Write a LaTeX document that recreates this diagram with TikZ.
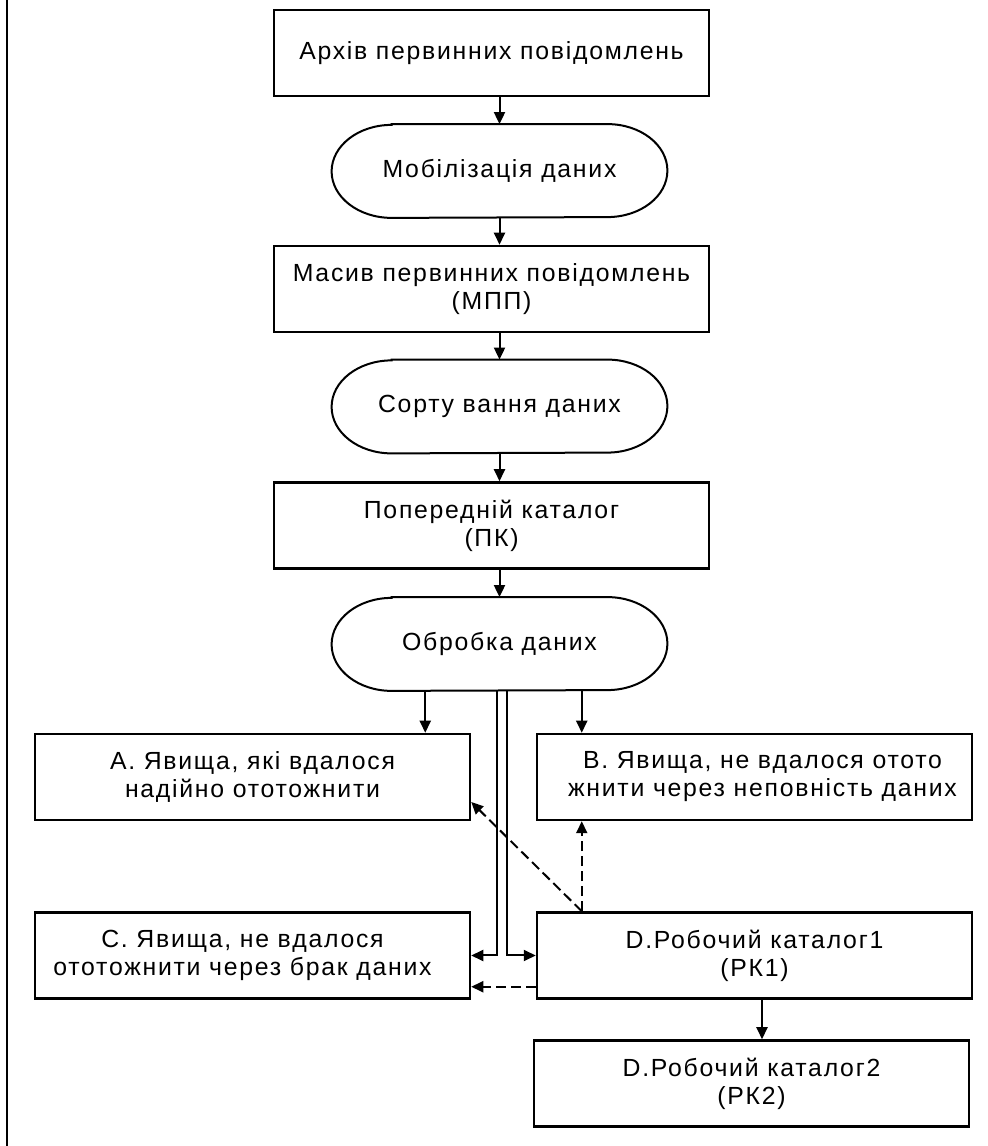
\documentclass[tikz,border=0pt]{standalone}
\usepackage{fontspec}
\setmainfont{Liberation Sans}[LetterSpace=7]
\usepackage{tikz}
\usetikzlibrary{arrows.meta, calc}

\begin{document}
\begin{tikzpicture}[x=0.5pt, y=0.5pt,
    font=\fontsize{12.4pt}{14pt}\selectfont,
    box/.style={draw, line width=1.25pt, minimum width=217.5pt, minimum height=43pt, inner sep=0pt, align=center},
    proc/.style={minimum width=167.5pt, minimum height=46.5pt, inner sep=0pt, align=center},
    arr/.style={line width=1pt, -{Triangle[length=6pt, width=5.5pt]}},
    dasharr/.style={arr, dash pattern=on 5pt off 2.5pt}]
      \useasboundingbox (0,0) rectangle (988,1146);
      \draw[line width=1.2pt] (7,0) -- (7,1146);

      \node [box] (arch) at (491.5,1093) {Архів первинних повідомлень};
      \node [proc] (mob) at (499.5,975) {Мобілізація даних};
      \node [box] (mpp) at (491.5,857) {Масив первинних повідомлень\\(МПП)};
      \node [proc] (sort) at (499.5,739.5) {Сорту вання даних};
      \node [box] (pk) at (491.5,620.5) {Попередній каталог\\(ПК)};
      \node [proc] (obr) at (499.5,502) {Обробка даних};
      \node [box] (a) at (252.5,369) {A. Явища, які вдалося\\надійно ототожнити};
      \node [box] (b) at (754.5,369) {\hspace*{8pt}B. Явища, не вдалося отото\\\hspace*{8pt}жнити через неповність даних};
      \node [box] (c) at (252.5,190.5) {C. Явища, не вдалося\hspace*{10pt}\\ототожнити через брак даних\hspace*{10pt}};
      \node [box] (d) at (754.5,190.5) {D.Робочий каталог1\\(РК1)};
      \node [box] (rk2) at (751.5,62.5) {D.Робочий каталог2\\(РК2)};

      \foreach \n in {mob, sort, obr}
        \draw[line width=1pt] ([xshift=30pt]\n.north west) -- ([xshift=-30pt]\n.north east)
          arc[start angle=90, end angle=-90, x radius=30pt, y radius=23.25pt]
          -- ([xshift=30pt]\n.south west)
          arc[start angle=270, end angle=90, x radius=30pt, y radius=23.25pt] -- cycle;

      \draw[arr] (arch.south -| mob.north) -- (mob.north);
      \draw[arr] (mob.south) -- (mob.south |- mpp.north);
      \draw[arr] (mpp.south -| sort.north) -- (sort.north);
      \draw[arr] (sort.south) -- (sort.south |- pk.north);
      \draw[arr] (pk.south -| obr.north) -- (obr.north);

      \coordinate (ain) at ($(a.north east)+(-46,0)$);
      \coordinate (bin) at ($(b.north west)+(46,0)$);
      \draw[arr] (ain |- obr.south) -- (ain);
      \draw[arr] (bin |- obr.south) -- (bin);
      \draw[arr] ($(obr.south)+(-2.5,0)$) |- (c.east);
      \draw[arr] ($(obr.south)+(7.5,0)$) |- (d.west);

      \coordinate (dtop) at ($(d.north west)+(46,0)$);
      \coordinate (dlow) at ($(d.south west)+(0,13)$);
      \draw[dasharr] (dtop) -- (dtop |- b.south);
      \draw[dasharr] (dtop) -- ($(a.east)+(0,-25)$);
      \draw[dasharr] (dlow) -- (dlow -| c.east);

      \coordinate (dout) at ($(d.south)+(7.5,0)$);
      \draw[arr] (dout) -- (dout |- rk2.north);
    \end{tikzpicture}
\end{document}
